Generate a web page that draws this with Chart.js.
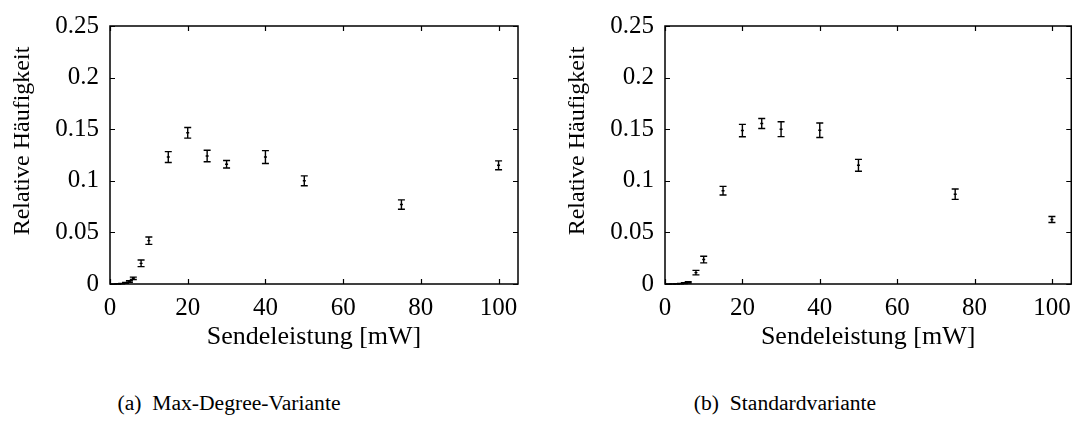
<!DOCTYPE html>
<html>
<head>
<meta charset="utf-8">
<script src="https://cdn.jsdelivr.net/npm/chart.js@4/dist/chart.umd.min.js"></script>
<style>
  html, body { margin: 0; padding: 0; background: #fff; }
  body { width: 1080px; height: 421px; position: relative; overflow: hidden; font-family: 'Liberation Serif', serif; }
  .panel { position: absolute; top: 0; height: 360px; }
  .caption { position: absolute; top: 392px; font-size: 21.6px; line-height: 23px; color: #000; white-space: pre; transform: translateX(-50%); }
</style>
</head>
<body>
<div class="panel" style="left:0; width:540px;"><canvas id="chartA"></canvas></div>
<div class="panel" style="left:555px; width:525px;"><canvas id="chartB"></canvas></div>
<div class="caption" style="left:229px;">(a)  Max-Degree-Variante</div>
<div class="caption" style="left:785px;">(b)  Standardvariante</div>

<script>
// Sendeleistung in mW (x positions of the measurements)
const power = [1, 2, 3, 4, 5, 6, 8, 10, 15, 20, 25, 30, 40, 50, 75, 100];

// (a) Max-Degree-Variante: relative frequency and error
const maxDegree    = [0.0000, 0.0001, 0.0003, 0.0010, 0.0025, 0.0055, 0.0200, 0.0420, 0.1230, 0.1465, 0.1240, 0.1160, 0.1230, 0.1000, 0.0770, 0.1150];
const maxDegreeErr = [0.0000, 0.0001, 0.0002, 0.0004, 0.0008, 0.0012, 0.0032, 0.0036, 0.0053, 0.0051, 0.0056, 0.0036, 0.0062, 0.0048, 0.0045, 0.0043];

// (b) Standardvariante
const standard    = [0.0000, 0.0000, 0.0001, 0.0003, 0.0008, 0.0016, 0.0110, 0.0237, 0.0904, 0.1487, 0.1555, 0.1500, 0.1490, 0.1150, 0.0870, 0.0625];
const standardErr = [0.0000, 0.0000, 0.0001, 0.0002, 0.0004, 0.0007, 0.0022, 0.0032, 0.0042, 0.0060, 0.0048, 0.0072, 0.0070, 0.0058, 0.0050, 0.0029];

// axis ticks
const xTicks = [0, 20, 40, 60, 80, 100];
const yTicks = [0, 0.05, 0.1, 0.15, 0.2, 0.25];

const FONT = 'Liberation Serif';
const INK = '#000';

/**
 * Draws the gnuplot style frame, inward ticks, error bars and the y title
 */
const gnuplotPlugin = {
  id: 'gnuplot',
  afterDatasetsDraw(chart) {
    const { ctx, chartArea: a, scales: { x, y } } = chart;
    ctx.save();
    ctx.strokeStyle = INK;
    ctx.lineWidth = 1.5;

    // frame
    ctx.strokeRect(a.left, a.top, a.right - a.left, a.bottom - a.top);

    // inward ticks on all four sides
    const tl = 5;
    ctx.lineWidth = 1.2;
    ctx.beginPath();
    xTicks.forEach(v => {
      const px = Math.round(x.getPixelForValue(v)) + 0.5;
      ctx.moveTo(px, a.bottom); ctx.lineTo(px, a.bottom - tl);
      ctx.moveTo(px, a.top); ctx.lineTo(px, a.top + tl);
    });
    yTicks.forEach(v => {
      const py = Math.round(y.getPixelForValue(v)) + 0.5;
      ctx.moveTo(a.left, py); ctx.lineTo(a.left + tl, py);
      ctx.moveTo(a.right, py); ctx.lineTo(a.right - tl, py);
    });
    ctx.stroke();

    // error bars
    ctx.lineWidth = 1.4;
    chart.data.datasets.forEach(ds => {
      const errs = ds.errors || [];
      ds.data.forEach((pt, i) => {
        const e = errs[i] || 0;
        const px = x.getPixelForValue(pt.x);
        const top = y.getPixelForValue(pt.y + e);
        const bot = y.getPixelForValue(pt.y - e);
        const mid = y.getPixelForValue(pt.y);
        ctx.beginPath();
        ctx.moveTo(px, top); ctx.lineTo(px, bot);
        ctx.moveTo(px - 3.5, top); ctx.lineTo(px + 3.5, top);
        ctx.moveTo(px - 3.5, bot); ctx.lineTo(px + 3.5, bot);
        ctx.moveTo(px - 1.5, mid); ctx.lineTo(px + 1.5, mid);
        ctx.stroke();
      });
    });

    // y axis title, rotated
    const title = chart.options.plugins.gnuplot.yTitle;
    ctx.fillStyle = INK;
    ctx.font = '24px "' + FONT + '"';
    ctx.translate(23, 141);
    ctx.rotate(-Math.PI / 2);
    ctx.textAlign = 'center';
    ctx.textBaseline = 'middle';
    ctx.fillText(title, 0, 0);
    ctx.restore();
  }
};

function makeChart(canvasId, values, errors, rightPad) {
  const points = power.map((p, i) => ({ x: p, y: values[i] }));
  return new Chart(document.getElementById(canvasId), {
    type: 'scatter',
    data: {
      datasets: [{
        data: points,
        errors: errors,
        pointRadius: 0,
        pointHoverRadius: 0,
        borderColor: INK,
        backgroundColor: INK
      }]
    },
    options: {
      responsive: true,
      maintainAspectRatio: false,
      animation: false,
      events: [],
      layout: { padding: { top: 24, right: rightPad, left: 0, bottom: 0 } },
      plugins: {
        legend: { display: false },
        tooltip: { enabled: false },
        gnuplot: { yTitle: 'Relative Häufigkeit' }
      },
      scales: {
        x: {
          type: 'linear',
          min: 0,
          max: 105,
          afterBuildTicks: s => { s.ticks = xTicks.map(v => ({ value: v })); },
          afterFit: s => { s.height = 76; },
          grid: { display: false, drawTicks: false },
          border: { display: false },
          ticks: {
            color: INK,
            padding: 9,
            font: { family: FONT, size: 25 },
            maxRotation: 0
          },
          title: {
            display: true,
            text: 'Sendeleistung [mW]',
            color: INK,
            font: { family: FONT, size: 26 },
            padding: { top: 0, bottom: 7 }
          }
        },
        y: {
          type: 'linear',
          min: 0,
          max: 0.25,
          afterBuildTicks: s => { s.ticks = yTicks.map(v => ({ value: v })); },
          afterFit: s => { s.width = 110; },
          grid: { display: false, drawTicks: false },
          border: { display: false },
          ticks: {
            color: INK,
            padding: 11,
            font: { family: FONT, size: 25 },
            callback: v => String(parseFloat(v.toFixed(2)))
          }
        }
      }
    },
    plugins: [gnuplotPlugin]
  });
}

makeChart('chartA', maxDegree, maxDegreeErr, 22);
makeChart('chartB', standard, standardErr, 7);
</script>
</body>
</html>
